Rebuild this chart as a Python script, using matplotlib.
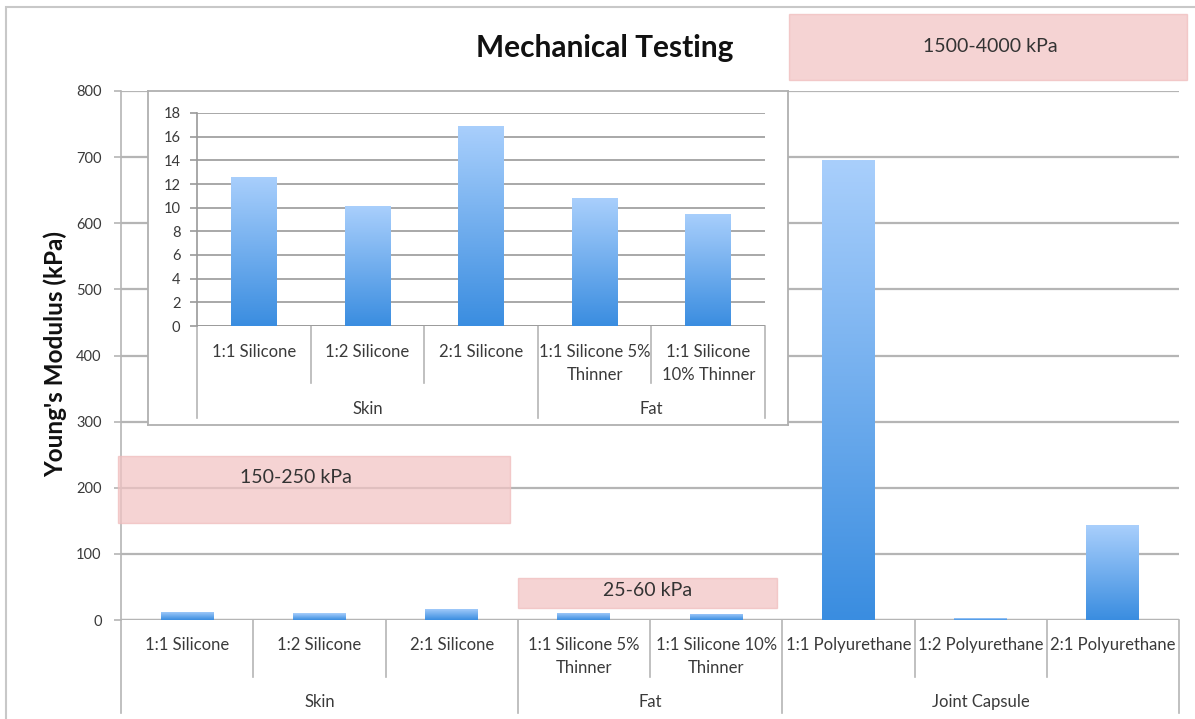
import numpy as np
import matplotlib
matplotlib.use("Agg")
import matplotlib.pyplot as plt
from matplotlib.colors import LinearSegmentedColormap
from matplotlib.patches import Rectangle
from matplotlib.lines import Line2D

plt.rcParams['font.family'] = ['Lato', 'DejaVu Sans']

# ---------------- data ----------------
main_labels = ["1:1 Silicone", "1:2 Silicone", "2:1 Silicone",
               "1:1 Silicone 5%\nThinner", "1:1 Silicone 10%\nThinner",
               "1:1 Polyurethane", "1:2 Polyurethane", "2:1 Polyurethane"]
main_values = [12.6, 10.1, 16.9, 10.8, 9.5, 695, 3, 143]
main_groups = ["Skin", "Fat", "Joint Capsule"]
main_group_sizes = [3, 2, 3]
main_yticks = [0, 100, 200, 300, 400, 500, 600, 700, 800]

inset_labels = ["1:1 Silicone", "1:2 Silicone", "2:1 Silicone",
                "1:1 Silicone 5%\nThinner", "1:1 Silicone\n10% Thinner"]
inset_values = [12.6, 10.1, 16.9, 10.8, 9.5]
inset_groups = ["Skin", "Fat"]
inset_group_sizes = [3, 2]
inset_yticks = [0, 2, 4, 6, 8, 10, 12, 14, 16, 18]

band_labels = ["150-250 kPa", "25-60 kPa", "1500-4000 kPa"]

title = "Mechanical Testing"
ylabel = "Young's Modulus (kPa)"

# ---------------- style ----------------
W, H = 1195, 719
GRID = "#b5b5b5"
TXT = "#3a3a3a"
LIGHT = "#a9cffc"
DARK = "#3a8de0"
PINK = "#f2c3c3"
cmap = LinearSegmentedColormap.from_list("g", [DARK, LIGHT])

fig = plt.figure(figsize=(W / 100, H / 100), dpi=100)


def px(x0, y0, x1, y1):
    return [x0 / W, 1 - y1 / H, (x1 - x0) / W, (y1 - y0) / H]


def gradient_bars(ax, values, width):
    x = np.arange(len(values))
    bars = ax.bar(x, values, width, color="none", edgecolor="none", zorder=3)
    for b in bars:
        x0, y0, w, h = b.get_x(), b.get_y(), b.get_width(), b.get_height()
        im = ax.imshow(np.linspace(0, 1, 256).reshape(-1, 1),
                       extent=[x0, x0 + w, y0, y0 + h], origin="lower",
                       cmap=cmap, aspect="auto", zorder=3)
        im.set_clip_path(b)


def category_axis(ax, labels, groups, sizes, lab_y, sep_y, grp_y, grp_sep_y, fs):
    n = len(labels)
    for i, lab in enumerate(labels):
        ax.text(i, lab_y, lab, ha="center", va="top", fontsize=fs, color=TXT,
                linespacing=1.55, clip_on=False)
    bounds = [-0.5]
    for s in sizes:
        bounds.append(bounds[-1] + s)
    for b in np.arange(-0.5, n, 1.0):
        is_grp = any(abs(b - gb) < 1e-6 for gb in bounds)
        ax.add_line(Line2D([b, b], [0, grp_sep_y if is_grp else sep_y],
                           color=GRID, lw=1.2, clip_on=False, zorder=1))
    for g, a, bnd in zip(groups, bounds[:-1], bounds[1:]):
        ax.text((a + bnd) / 2, grp_y, g, ha="center", va="center", fontsize=fs,
                color=TXT, clip_on=False)


# outer frame
fig.add_artist(Rectangle((6 / W, -0.1), 1.2, 1 - 7 / H + 0.1, transform=fig.transFigure,
                         fill=False, edgecolor="#c8c8c8", lw=1.5))

# ---------------- main axes ----------------
ax = fig.add_axes(px(121, 91, 1179, 620))
gradient_bars(ax, main_values, 0.4)
ax.set_xlim(-0.5, len(main_values) - 0.5)
ax.set_ylim(0, 800)
ax.set_yticks(main_yticks)
ax.set_xticks([])
ax.grid(axis="y", color=GRID, lw=1.6, zorder=0)
ax.set_axisbelow(True)
for s in ["top", "right", "bottom"]:
    ax.spines[s].set_visible(False)
ax.spines["left"].set_color(GRID)
ax.spines["left"].set_linewidth(1.2)
ax.tick_params(axis="y", length=5, width=1.2, color=GRID, pad=9, labelsize=10.5, labelcolor=TXT)
ax.axhline(0, color=GRID, lw=1.6, zorder=2)
category_axis(ax, main_labels, main_groups, main_group_sizes,
              lab_y=-26, sep_y=-86, grp_y=-124, grp_sep_y=-140, fs=12)

# pink bands (display extents in data units)
bands = [((-0.52, 147), 2.96, 101, (0.82, 215)),
         ((2.50, 18), 1.96, 45, (3.48, 44)),
         ((4.55, 817), 3.01, 100, (6.07, 868))]
for lab, (xy, bw, bh, tpos) in zip(band_labels, bands):
    ax.add_patch(Rectangle(xy, bw, bh, facecolor=PINK, edgecolor="#efbcbc",
                           lw=1, alpha=0.72, zorder=4, clip_on=False))
    ax.text(tpos[0], tpos[1], lab, ha="center", va="center", fontsize=14,
            color="#333333", zorder=5, clip_on=False)

fig.text(605 / W, 1 - 48 / H, title, ha="center", va="center", fontsize=21.5,
         fontweight="bold", color="#111111")
fig.text(55 / W, 1 - 354 / H, ylabel, ha="center", va="center", rotation=90,
         fontsize=17.5, fontweight="bold", color="#111111")

# ---------------- inset ----------------
box = fig.add_axes(px(148, 91, 788, 425))
box.set_xticks([])
box.set_yticks([])
for s in box.spines.values():
    s.set_color("#b0b0b0")
    s.set_linewidth(1.3)
box.set_facecolor("white")

ins = fig.add_axes(px(197, 113, 765, 326))
ins.patch.set_alpha(0)
gradient_bars(ins, inset_values, 0.4)
ins.set_xlim(-0.5, len(inset_values) - 0.5)
ins.set_ylim(0, 18)
ins.set_yticks(inset_yticks)
ins.set_xticks([])
ins.grid(axis="y", color="#9a9a9a", lw=1.2, zorder=0)
ins.set_axisbelow(True)
for s in ["top", "right", "bottom"]:
    ins.spines[s].set_visible(False)
ins.spines["left"].set_color("#9a9a9a")
ins.spines["left"].set_linewidth(1.2)
ins.tick_params(axis="y", length=5, width=1.2, color="#9a9a9a", pad=7, labelsize=10.5, labelcolor=TXT)
ins.axhline(0, color="#9a9a9a", lw=1.2, zorder=2)
category_axis(ins, inset_labels, inset_groups, inset_group_sizes,
              lab_y=-1.5, sep_y=-4.8, grp_y=-7.0, grp_sep_y=-7.8, fs=12)

fig.savefig("out.png", dpi=100)
